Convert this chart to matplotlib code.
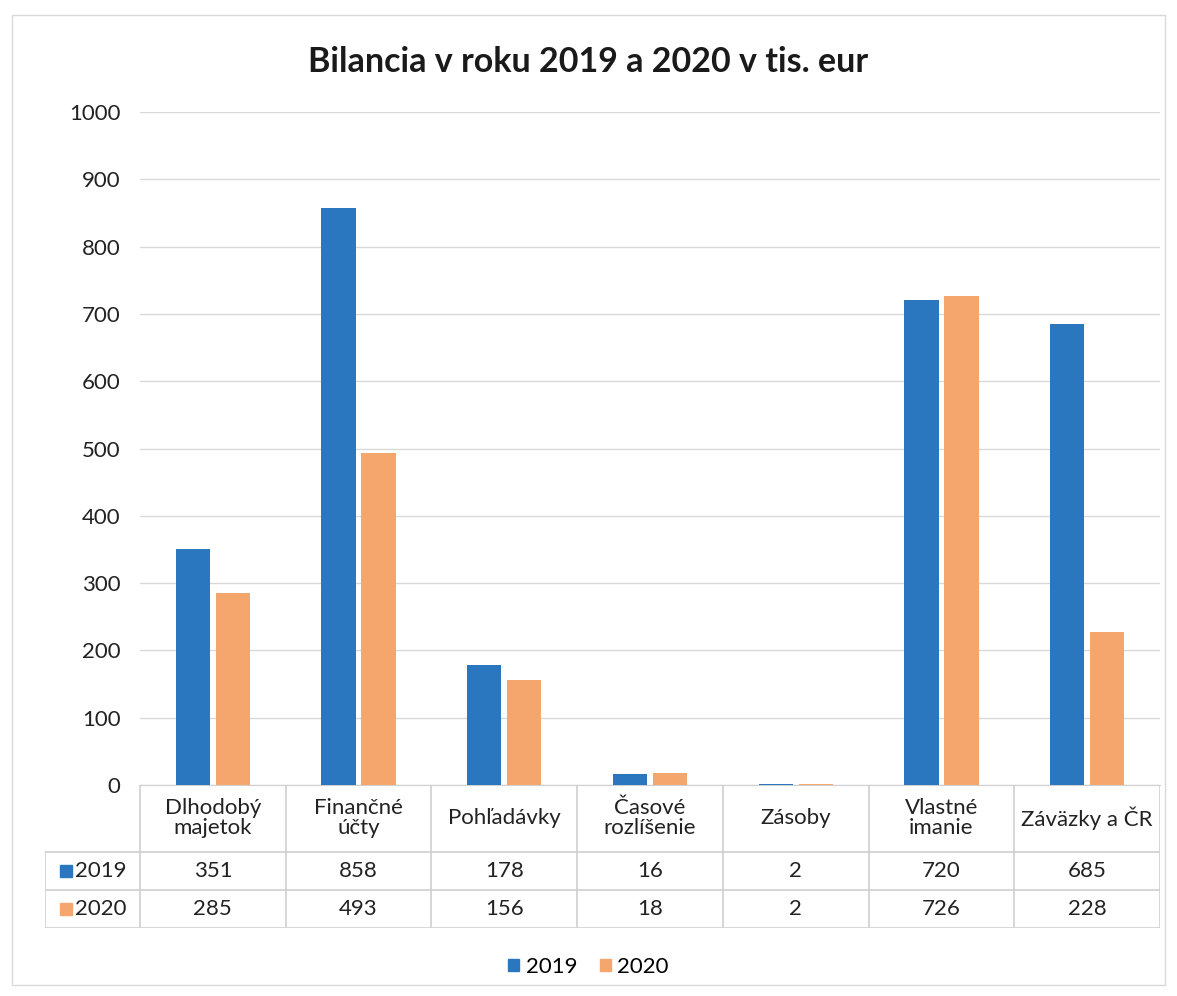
import matplotlib.pyplot as plt
import numpy as np
from matplotlib.patches import Rectangle

plt.rcParams['font.family'] = ['Lato', 'DejaVu Sans']

categories = ["Dlhodobý\nmajetok", "Finančné\núčty", "Pohľadávky", "Časové\nrozlíšenie",
              "Zásoby", "Vlastné\nimanie", "Záväzky a ČR"]
years = ["2019", "2020"]
v2019 = [351, 858, 178, 16, 2, 720, 685]
v2020 = [285, 493, 156, 18, 2, 726, 228]
colors = ["#2a77c0", "#f5a66c"]

W, H = 1177, 996
fig = plt.figure(figsize=(W / 100, H / 100), dpi=100)

# pixel helpers
left_px, right_px, top_px, base_px = 140, 1160, 112, 785
ax = fig.add_axes([left_px / W, 1 - base_px / H, (right_px - left_px) / W, (base_px - top_px) / H])

x = np.arange(len(categories))
bw = 0.235
ax.bar(x - 0.137, v2019, bw, color=colors[0], zorder=3)
ax.bar(x + 0.137, v2020, bw, color=colors[1], zorder=3)

ax.set_xlim(-0.5, len(categories) - 0.5)
ax.set_ylim(0, 1000)
ax.set_yticks(range(0, 1001, 100))
ax.yaxis.grid(True, color="#d9d9d9", linewidth=1.0, zorder=0)
ax.set_xticks([])
for s in ["top", "right", "left"]:
    ax.spines[s].set_visible(False)
ax.spines["bottom"].set_color("#d0d0d0")
ax.tick_params(axis="y", length=0, labelsize=16, pad=14, colors="#222222")

fig.text(0.5, 1 - 62 / H, "Bilancia v roku 2019 a 2020 v tis. eur", ha="center", va="center",
         fontsize=24.5, fontweight="bold", color="#1a1a1a")

# data table below the axis
tab = fig.add_axes([45 / W, 1 - 928 / H, (right_px - 45) / W, (928 - 785) / H])
cw = (right_px - left_px) / len(categories)
tab.set_xlim(45, right_px)
tab.set_ylim(928, 785)
tab.axis("off")
lc = "#cfcfcf"
for yy in [852, 890, 928]:
    tab.plot([45, right_px], [yy, yy], color=lc, lw=1.2)
tab.plot([45, 45], [852, 928], color=lc, lw=1.2)
for i in range(len(categories) + 1):
    xx = left_px + i * cw
    tab.plot([xx, xx], [785, 928], color=lc, lw=1.2)
for i, cat in enumerate(categories):
    cx = left_px + (i + 0.5) * cw
    tab.text(cx, 818, cat, ha="center", va="center", fontsize=16, color="#222222", linespacing=1.05)
    tab.text(cx, 871, str(v2019[i]), ha="center", va="center", fontsize=16, color="#222222")
    tab.text(cx, 909, str(v2020[i]), ha="center", va="center", fontsize=16, color="#222222")
for j, (yr, yy) in enumerate(zip(years, [871, 909])):
    tab.add_patch(Rectangle((60, yy - 6), 12, 12, color=colors[j]))
    tab.text(75, yy, yr, ha="left", va="center", fontsize=16, color="#222222")

# legend
leg = fig.legend(handles=[Rectangle((0, 0), 1, 1, color=c) for c in colors], labels=years,
                 loc="center", bbox_to_anchor=(0.5, 1 - 967 / H), ncol=2, frameon=False,
                 fontsize=16, handlelength=0.5, handleheight=0.5, handletextpad=0.3, columnspacing=1.0)

# outer chart border
fig.patches.append(Rectangle((12 / W, 1 - 985 / H), 1153 / W, 970 / H, transform=fig.transFigure,
                             fill=False, edgecolor="#d9d9d9", lw=1.0))

fig.savefig("out.png", dpi=100)
